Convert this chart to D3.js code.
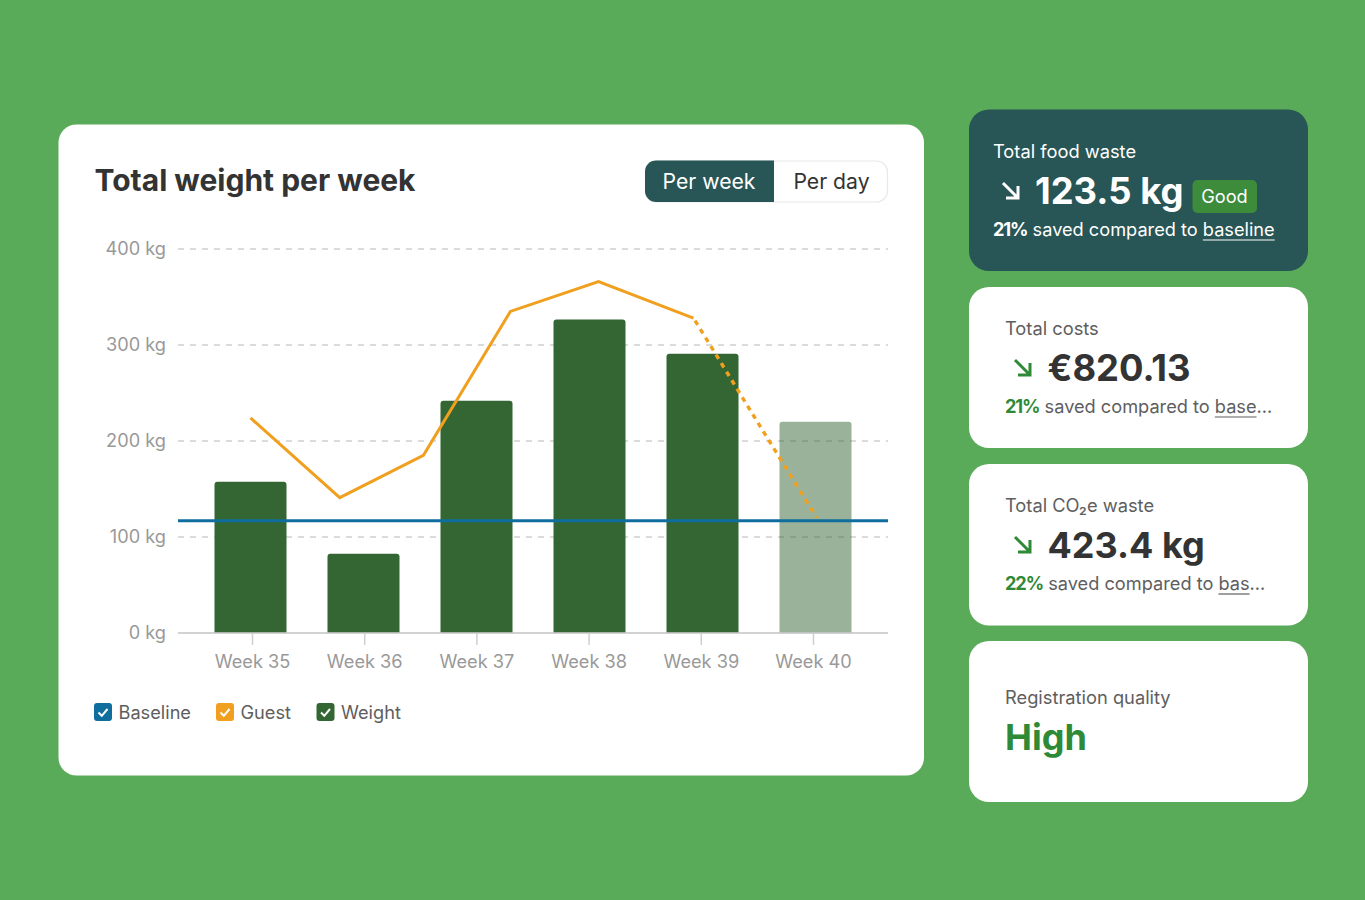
<!DOCTYPE html>
<html><head><meta charset="utf-8">
<script src="https://cdn.jsdelivr.net/npm/d3@7"></script>
<style>
html,body{margin:0;padding:0;background:#59AA59;overflow:hidden}
svg{display:block}
text{font-family:Inter,sans-serif}
</style></head><body>
<svg id="c" width="1365" height="900"></svg>
<script>
const weeks=["Week 35","Week 36","Week 37","Week 38","Week 39","Week 40"];
const weightValues=[157.5,82.5,242,326.5,291,220];
const projectedWeek="Week 40";
const yTicks=[0,100,200,300,400];
const baselineValue=117;
const guestWeekPos=[35,35.79,36.53,37.3,38.08,38.92];
const guestValues=[224,141,185,335,366,328];
const guestProjectedWeekPos=[38.92,40.01];
const guestProjectedValues=[328,120];
const legendLabels=["Baseline","Guest","Weight"];
const legendColors=["#0F6E9E","#F0A01E","#336633"];
const toggleLabels=["Per week","Per day"];
const kpiTitles=["Total food waste","Total costs","Total CO₂e waste","Registration quality"];
const kpiValues=["123.5 kg","€820.13","423.4 kg","High"];
const kpiPercents=["21%","21%","22%"];
const kpiLinks=["baseline","base","bas"];

const C={bg:"#59AA59",teal:"#285555",dark:"#333333",mid:"#5E5E5E",light:"#999999",grid:"#CFCFCF",green:"#2F8A37",bar:"#336633",badge:"#3C8C3C"};
const svg=d3.select("#c");
const y=d3.scaleLinear().domain([0,400]).range([633,249]);
const xBand=d3.scaleBand().domain(weeks).range([194,872]).paddingInner(41/113).paddingOuter(20.5/113);
const xAxisPt=d3.scalePoint().domain(weeks).range([252.5,813.5]);
const xLine=d3.scaleLinear().domain([35,40]).range([250.5,815.5]);

svg.append("rect").attr("width",1365).attr("height",900).attr("fill",C.bg);
// Main card
svg.append("rect").attr("x",58.5).attr("y",124.5).attr("width",865.5).attr("height",651).attr("rx",18).attr("fill","#fff");
svg.append("text").attr("x",94.5).attr("y",191).attr("font-size",30).attr("font-weight",700).attr("fill",C.dark).text("Total weight per week");

// Toggle
const tg=svg.append("g");
tg.append("rect").attr("x",645.5).attr("y",161).attr("width",242).attr("height",41).attr("rx",11).attr("fill","#fff").attr("stroke","#E8E8E8").attr("stroke-width",1.2);
tg.append("path").attr("d","M774,160.5H656a11,11 0 0 0 -11,11V191a11,11 0 0 0 11,11H774Z").attr("fill",C.teal);
tg.append("text").attr("x",709).attr("y",189).attr("text-anchor","middle").attr("font-size",21.2).attr("fill","#fff").text(toggleLabels[0]);
tg.append("text").attr("x",831.5).attr("y",189).attr("text-anchor","middle").attr("font-size",21.2).attr("fill",C.dark).text(toggleLabels[1]);

// Grid and y labels
const yAxis=svg.append("g").attr("transform","translate(178,0)")
  .call(d3.axisLeft(y).offset(0).tickValues(yTicks).tickSize(-710).tickPadding(12).tickFormat(d=>d+" kg"));
yAxis.select(".domain").remove();
yAxis.selectAll(".tick line").attr("stroke",C.grid).attr("stroke-width",1.5).attr("stroke-dasharray",d=>d===0?null:"6 6");
yAxis.selectAll(".tick text").attr("font-family","Inter").attr("font-size",18.2).attr("fill",C.light);

// Bars
const bh=3;
svg.append("g").selectAll("path").data(weeks).join("path")
 .attr("d",(w,i)=>{const x0=xBand(w),x1=x0+xBand.bandwidth(),t=y(weightValues[i]),b=y(0);
   const p=d3.path();p.moveTo(x0,b);p.lineTo(x0,t+bh);p.quadraticCurveTo(x0,t,x0+bh,t);p.lineTo(x1-bh,t);p.quadraticCurveTo(x1,t,x1,t+bh);p.lineTo(x1,b);p.closePath();return p.toString();})
 .attr("fill",C.bar).attr("fill-opacity",w=>w===projectedWeek?0.5:1);

// X axis
const xAxis=svg.append("g").attr("transform","translate(0,633)")
 .call(d3.axisBottom(xAxisPt).offset(0).tickSize(12).tickPadding(10));
xAxis.select(".domain").attr("d","M178,0H888").attr("stroke",C.grid).attr("stroke-width",1.5);
xAxis.selectAll(".tick line").attr("stroke",C.grid).attr("stroke-width",1.5);
xAxis.selectAll(".tick text").attr("font-family","Inter").attr("font-size",18.2).attr("fill",C.light);

// Baseline
svg.append("line").attr("x1",178).attr("x2",888).attr("y1",y(baselineValue)).attr("y2",y(baselineValue)).attr("stroke",legendColors[0]).attr("stroke-width",3);
// Guest
const line=d3.line().x(d=>xLine(d[0])).y(d=>y(d[1]));
svg.append("path").datum(d3.zip(guestWeekPos,guestValues)).attr("d",line).attr("fill","none").attr("stroke",legendColors[1]).attr("stroke-width",3);
svg.append("path").datum(d3.zip(guestProjectedWeekPos,guestProjectedValues)).attr("d",line).attr("fill","none").attr("stroke",legendColors[1]).attr("stroke-width",3.4).attr("stroke-dasharray","5 5").attr("stroke-dashoffset",-3);

// Legend
const lx=[94,216,316.5];
legendLabels.forEach((l,i)=>{
 const g=svg.append("g").attr("transform",`translate(${lx[i]},703)`);
 g.append("rect").attr("width",18).attr("height",18).attr("rx",3).attr("fill",legendColors[i]);
 g.append("path").attr("d","M4.5,9.5L7.8,12.8L13.5,6").attr("fill","none").attr("stroke","#fff").attr("stroke-width",2);
 g.append("text").attr("x",24.5).attr("y",16).attr("font-size",18.2).attr("fill",C.mid).text(l);
});

// KPI cards
const cards=[{y:109.5,h:161.5},{y:287,h:161},{y:464,h:161.5},{y:641,h:161}];
function arrow(x,yy,col){
 svg.append("path").attr("d",`M${x},${yy}L${x+15},${yy+15}M${x+15},${yy+3}V${yy+15}H${x+3}`).attr("fill","none").attr("stroke",col).attr("stroke-width",3);
}
cards.forEach((c,i)=>{
 const dark=i===0;
 svg.append("rect").attr("x",969).attr("y",c.y).attr("width",339).attr("height",c.h).attr("rx",20).attr("fill",dark?C.teal:"#fff");
});
function line3(i,x,yy,trail){
 const dark=i===0;
 const t=svg.append("text").attr("x",x).attr("y",yy).attr("font-size",18.2).attr("fill",dark?"#fff":C.mid);
 t.append("tspan").attr("font-weight",700).attr("letter-spacing",-1.1).attr("fill",dark?"#fff":C.green).text(kpiPercents[i]);
 t.append("tspan").text(" saved compared to ");
 t.append("tspan").text(kpiLinks[i]);
 t.append("tspan").text(trail);
 const n=t.node(),pre=kpiPercents[i].length+" saved compared to ".length;
 const sx=n.getStartPositionOfChar(pre).x,ex=n.getEndPositionOfChar(pre+kpiLinks[i].length-1).x;
 svg.append("line").attr("x1",sx).attr("x2",ex).attr("y1",yy+4.5).attr("y2",yy+4.5).attr("stroke",dark?"#fff":C.mid).attr("stroke-width",1.2);
}
const valSize=36.4;
// Card 1
svg.append("text").attr("x",993).attr("y",157.5).attr("font-size",18.3).attr("fill","#fff").text(kpiTitles[0]);
arrow(1003,183,"#fff");
svg.append("text").attr("x",1035).attr("y",204).attr("font-size",valSize).attr("font-weight",700).attr("fill","#fff").text(kpiValues[0]);
svg.append("rect").attr("x",1192.5).attr("y",180).attr("width",64.5).attr("height",33).attr("rx",5).attr("fill",C.badge);
svg.append("text").attr("x",1224.5).attr("y",202.5).attr("text-anchor","middle").attr("font-size",18.2).attr("fill","#fff").text("Good");
line3(0,993,235.5,"");
// Card 2
svg.append("text").attr("x",1005).attr("y",334.5).attr("font-size",18.3).attr("fill",C.mid).text(kpiTitles[1]);
arrow(1015,360,C.green);
svg.append("text").attr("x",1047.5).attr("y",381).attr("font-size",valSize).attr("font-weight",700).attr("fill",C.dark).text(kpiValues[1]);
line3(1,1005,412.5,"…");
// Card 3
svg.append("text").attr("x",1005).attr("y",511.5).attr("font-size",18.3).attr("fill",C.mid).text(kpiTitles[2]);
arrow(1015,537,C.green);
svg.append("text").attr("x",1047.5).attr("y",558).attr("font-size",36).attr("font-weight",700).attr("fill",C.dark).text(kpiValues[2]);
line3(2,1005,589.5,"…");
// Card 4
svg.append("text").attr("x",1005).attr("y",703.5).attr("font-size",18.3).attr("fill",C.mid).text(kpiTitles[3]);
svg.append("text").attr("x",1005).attr("y",750).attr("font-size",36).attr("font-weight",700).attr("fill",C.green).text(kpiValues[3]);
</script>
</body></html>
